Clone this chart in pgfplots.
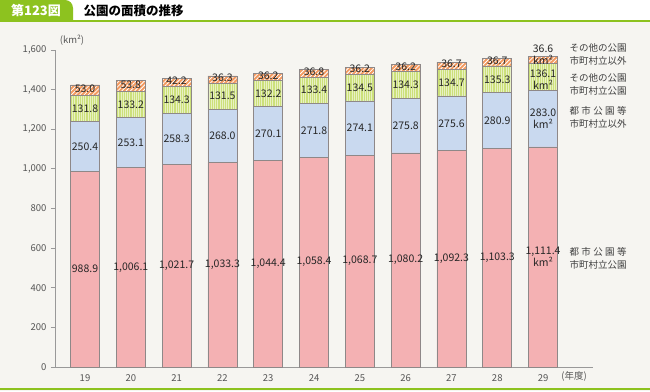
\documentclass[border=0pt]{standalone}
\usepackage{fontspec}
\setmainfont{Noto Sans CJK JP}
\usepackage{pgfplots}
\usepackage{pgfplotstable}
\pgfplotsset{compat=1.18}
\usetikzlibrary{patterns.meta}
\definecolor{bg}{HTML}{F6F5F1}
\definecolor{hdr}{HTML}{8DC21F}
\definecolor{cpink}{HTML}{F4B1B3}
\definecolor{cblue}{HTML}{C9D9EF}
\definecolor{cgreen}{HTML}{CCE07A}
\definecolor{corange}{HTML}{F39A60}
\definecolor{edge}{HTML}{8E8888}
\definecolor{txt}{HTML}{555555}
\pgfplotstableread{
x pink blue green orange
0 988.9 250.4 131.8 53.0
1 1006.1 253.1 133.2 53.8
2 1021.7 258.3 134.3 42.2
3 1033.3 268.0 131.5 36.3
4 1044.4 270.1 132.2 36.2
5 1058.4 271.8 133.4 36.8
6 1068.7 274.1 134.5 36.2
7 1080.2 275.8 134.3 36.2
8 1092.3 275.6 134.7 36.7
9 1103.3 280.9 135.3 36.7
10 1111.4 283.0 136.1 36.6
}\datatable
\begin{document}
\begin{tikzpicture}
\useasboundingbox (0pt,0pt) rectangle (650pt,391pt);
\begin{scope}[x=1pt,y=1pt]
\fill[bg] (0,0) rectangle (650,391);
\fill[white] (0,370) rectangle (650,391);
\fill[hdr] (0,369) rectangle (650,371);
\fill[hdr] (0,370) -- (0,391) -- (65,391) arc[start angle=90, end angle=0, radius=8] -- (73,370) -- cycle;
\node[text=white, font=\fontsize{13}{14}\bfseries] at (36,380.5) {第123図};
\node[anchor=west, font=\fontsize{12.5}{14}\bfseries] at (80,380.5) {公園の面積の推移};
\fill[hdr] (0,1) rectangle (650,3.5);
\end{scope}
\begin{axis}[
  at={(55pt,24pt)}, anchor=south west, scale only axis,
  width=538pt, height=317pt,
  xmin=-0.655, xmax=11.09, ymin=0, ymax=1600,
  ybar stacked, bar width=29pt,
  axis x line*=bottom, axis y line*=left,
  axis line style={draw=gray!80, line width=0.8pt, -},
  xtick=data, xticklabels={19,20,21,22,23,24,25,26,27,28,29},
  x tick style={draw=none},
  ytick={0,200,...,1600},
  y tick style={draw=gray!80, line width=0.8pt},
  tick align=outside, major tick length=4pt,
  tick label style={font=\fontsize{9.5}{11}\selectfont, text=txt},
  /pgf/number format/assume math mode=true,
  y tick label style={/pgf/number format/1000 sep={,}, xshift=-1pt},
  visualization depends on={rawx \as \rawxval},
  nodes near coords={\pgfmathprintnumber[fixed, precision=1, fixed zerofill, 1000 sep={,}, assume math mode=true]{\pgfplotspointmeta}\ifdim\rawxval pt>9.5pt\\km²\fi},
  every node near coord/.append style={anchor=center, align=center, inner sep=0pt,
     font=\fontsize{10.5}{12.5}\selectfont, text=black!85},
]
\addplot[fill=cpink, draw=edge, line width=0.6pt] table[x=x, y=pink] {\datatable};
\addplot[fill=cblue, draw=edge, line width=0.6pt] table[x=x, y=blue] {\datatable};
\addplot[fill=cgreen, draw=edge, line width=0.6pt,
  postaction={pattern={Lines[angle=90, distance=2.2pt, line width=0.7pt]}, pattern color=white!55!cgreen},
  every node near coord/.append style={yshift={ifthenelse(\rawxval>9.5,-2.5,0)*1pt}}] table[x=x, y=green] {\datatable};
\addplot[fill=corange, draw=edge, line width=0.6pt,
  postaction={pattern={Lines[angle=45, distance=3pt, line width=0.8pt]}, pattern color=white},
  every node near coord/.append style={yshift={ifthenelse(\rawxval>9.5,5.5,1.5)*1pt}}] table[x=x, y=orange] {\datatable};
\end{axis}
\begin{scope}[x=1pt,y=1pt]
\node[font=\fontsize{9.5}{11}\selectfont, text=txt] at (72,351) {(km²)};
\node[font=\fontsize{9.5}{11}\selectfont, text=txt] at (574,15) {(年度)};
\begin{scope}[every node/.style={anchor=west, align=left, font=\fontsize{9.5}{13}\selectfont, text=black!75}]
\node at (566,336.5) {その他の公園\\市町村立以外};
\node at (566,306.5) {その他の公園\\市町村立公園};
\node at (566,273.5) {\makebox[6em][s]{都 市 公 園 等}\\市町村立以外};
\node at (566,132.5) {\makebox[6em][s]{都 市 公 園 等}\\市町村立公園};
\end{scope}
\end{scope}
\end{tikzpicture}
\end{document}
